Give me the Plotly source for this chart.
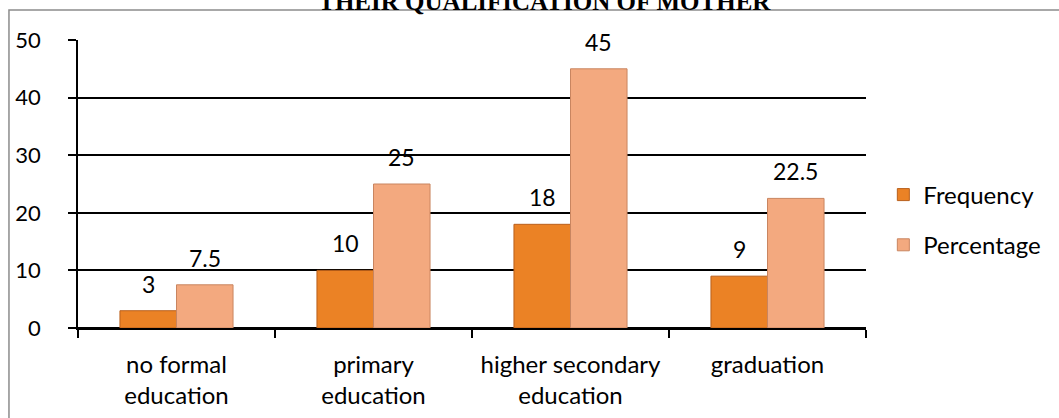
import plotly.graph_objects as go

# Mother's qualification: respondent counts and percentages
categories = ["no formal<br>education", "primary<br>education",
              "higher secondary<br>education", "graduation"]
frequency = [3, 10, 18, 9]
percentage = [7.5, 25, 45, 22.5]
y_ticks = [0, 10, 20, 30, 40, 50]

FONT = "Lato"
FREQ_COLOR = "#EB8225"
FREQ_EDGE = "#B95F1B"
PCT_COLOR = "#F3A97F"
PCT_EDGE = "#C98560"

fig = go.Figure()
fig.add_trace(go.Bar(
    name="Frequency", x=categories, y=frequency,
    marker=dict(color=FREQ_COLOR, line=dict(color=FREQ_EDGE, width=1)),
    legendgroup="f",
))
fig.add_trace(go.Bar(
    name="Percentage", x=categories, y=percentage,
    marker=dict(color=PCT_COLOR, line=dict(color=PCT_EDGE, width=1)),
    legendgroup="p",
))

# value labels above each bar
half = 28
for vals, shift in ((frequency, -half), (percentage, half)):
    for cat, v in zip(categories, vals):
        fig.add_annotation(
            x=cat, y=v, xref="x", yref="y", text=f"{v:g}",
            showarrow=False, xshift=shift, yshift=27, yanchor="middle",
            font=dict(family=FONT, size=23, color="#000000"),
        )

fig.update_layout(
    width=1059, height=418,
    margin=dict(l=78, r=193, t=40, b=90),
    paper_bgcolor="white", plot_bgcolor="white",
    barmode="group", bargap=0.426, bargroupgap=0,
    font=dict(family=FONT, size=22, color="#000000"),
    title=dict(
        text="<b>THEIR QUALIFICATION OF MOTHER</b>",
        x=0.514, xanchor="center", y=0.997, yref="container", yanchor="middle",
        font=dict(family="Liberation Serif", size=25, color="#000000"),
    ),
    legend=dict(
        x=1.022, xanchor="left", y=0.375, yanchor="middle",
        font=dict(family=FONT, size=24, color="#000000"),
        tracegroupgap=16, bgcolor="rgba(0,0,0,0)",
    ),
    xaxis=dict(
        showline=True, linecolor="#000000", linewidth=1.5,
        ticks="outside", tickson="boundaries", ticklen=8,
        tickcolor="#000000", tickwidth=1.5, showgrid=False,
        ticklabelstandoff=14, automargin=False,
        tickfont=dict(family=FONT, size=24),
    ),
    yaxis=dict(
        range=[0, 50], tickvals=y_ticks, showline=True,
        linecolor="#000000", linewidth=1.5,
        ticks="outside", ticklen=8, tickcolor="#000000", tickwidth=1.5,
        showgrid=True, gridcolor="#000000", gridwidth=1.5,
        zeroline=True, zerolinecolor="#000000", zerolinewidth=1.5,
        ticklabelstandoff=23, automargin=False,
        tickfont=dict(family=FONT, size=22),
    ),
    shapes=[dict(
        type="rect", xref="paper", yref="paper",
        x0=-0.0876, x1=1.26, y0=-0.34, y1=1.104,
        line=dict(color="#8C8C8C", width=1.5), fillcolor="rgba(0,0,0,0)",
        layer="below",
    )],
)

fig.write_html("out.html")
